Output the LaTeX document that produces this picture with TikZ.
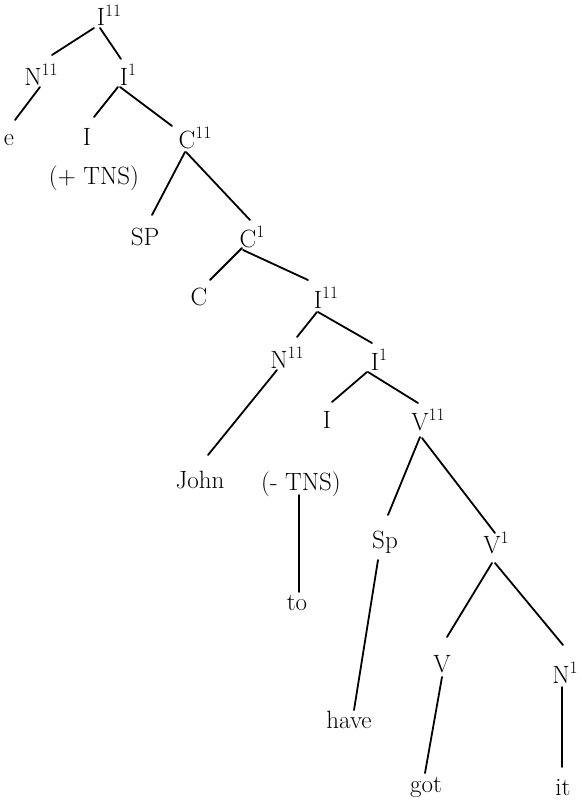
\documentclass[tikz,border=0pt]{standalone}
\usepackage{fontspec}
\usetikzlibrary{calc}
\newcommand{\brl}[1]{\rlap{\textsuperscript{#1}}}
\begin{document}
\begin{tikzpicture}[x=1pt,y=-1pt,
  lab/.style={anchor=base,inner sep=0pt,font=\fontsize{25}{29}\selectfont\addfontfeatures{FakeBold=1.5}},
  edge/.style={line width=1.8pt,line cap=round}]
\useasboundingbox[fill=white] (0,0) rectangle (581,800);
% nodes (base points)
\node[lab] (Itop) at (101,26) {I\brl{11}};
\node[lab] (N1) at (33,85) {N\brl{11}};
\node[lab] (Ip1) at (124,85) {I\brl{1}};
\node[lab] (e) at (9,145) {e};
\node[lab] (I1) at (87,145) {I};
\node[lab] (TNSp) at (94,184) {(+ TNS)};
\node[lab] (Cpp) at (187,148) {C\brl{11}};
\node[lab] (SP) at (145,245) {SP};
\node[lab] (Cp) at (248,247) {C\brl{1}};
\node[lab] (C) at (199,305) {C};
\node[lab] (I2) at (318,308) {I\brl{11}};
\node[lab] (N2) at (279,368) {N\brl{11}};
\node[lab] (Ip2) at (375,370) {I\brl{1}};
\node[lab] (John) at (200,488) {John};
\node[lab] (I3) at (327,428) {I};
\node[lab] (TNSm) at (301,490) {(- TNS)};
\node[lab] (to) at (297,610) {to};
\node[lab] (Vpp) at (420,430) {V\brl{11}};
\node[lab] (Sp) at (385,548) {Sp};
\node[lab] (Vp) at (492,553) {V\brl{1}};
\node[lab] (have) at (349,728) {have};
\node[lab] (V) at (442,672) {V};
\node[lab] (Np) at (561,683) {N\brl{1}};
\node[lab] (got) at (426,792) {got};
\node[lab] (it) at (563,795) {it};
% connectors
\draw[edge] ($(Itop.base)+(-7,2)$) -- ($(N1.base)+(19,-30)$);
\draw[edge] ($(Itop.base)+(-1,2)$) -- ($(Ip1.base)+(-3,-26)$);
\draw[edge] ($(N1.base)+(7,2)$) -- ($(e.base)+(6,-25)$);
\draw[edge] ($(Ip1.base)+(-6,2)$) -- ($(I1.base)+(7,-28)$);
\draw[edge] ($(Ip1.base)+(-4,2)$) -- ($(Cpp.base)+(-15,-22)$);
\draw[edge] ($(Cpp.base)+(-2,4)$) -- ($(SP.base)+(7,-30)$);
\draw[edge] ($(Cpp.base)+(-1,4)$) -- ($(Cp.base)+(2,-27)$);
\draw[edge] ($(Cp.base)+(-6,1)$) -- ($(C.base)+(11,-25)$);
\draw[edge] ($(Cp.base)+(-5,3)$) -- ($(I2.base)+(-10,-28)$);
\draw[edge] ($(I2.base)+(-1,4)$) -- ($(N2.base)+(18,-31)$);
\draw[edge] ($(I2.base)+(0,4)$) -- ($(Ip2.base)+(-3,-27)$);
\draw[edge] ($(N2.base)+(-2,2)$) -- ($(John.base)+(8,-33)$);
\draw[edge] ($(Ip2.base)+(-8,2)$) -- ($(I3.base)+(5,-26)$);
\draw[edge] ($(Ip2.base)+(-7,2)$) -- ($(Vpp.base)+(-2,-27)$);
\draw[edge] ($(TNSm.base)+(-2,5)$) -- ($(to.base)+(2,-18)$);
\draw[edge] ($(Vpp.base)+(0,7)$) -- ($(Sp.base)+(3,-33)$);
\draw[edge] ($(Vpp.base)+(2,8)$) -- ($(Vp.base)+(3,-20)$);
\draw[edge] ($(Sp.base)+(-7,12)$) -- ($(have.base)+(5,-18)$);
\draw[edge] ($(Vp.base)+(0,10)$) -- ($(V.base)+(5,-35)$);
\draw[edge] ($(Vp.base)+(3,10)$) -- ($(Np.base)+(2,-38)$);
\draw[edge] ($(V.base)+(0,5)$) -- ($(got.base)+(-1,-19)$);
\draw[edge] ($(Np.base)+(1,4)$) -- ($(it.base)+(-1,-28)$);
\end{tikzpicture}
\end{document}
